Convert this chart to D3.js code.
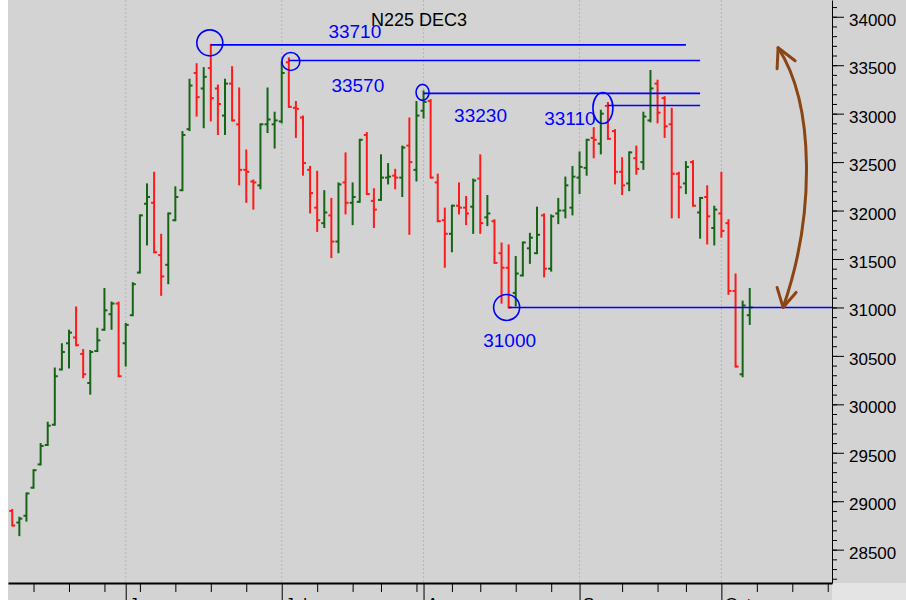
<!DOCTYPE html>
<html>
<head>
<meta charset="utf-8">
<script src="https://cdn.jsdelivr.net/npm/d3@7"></script>
<style>
    body { margin: 0; background: #fff; }
    svg { display: block; }
    text { font-family: "Liberation Sans", Arial, sans-serif; }
</style>
</head>
<body>
<svg id="chart"></svg>
<script>
// N225 Dec 2023 futures, daily bars (session index 0 = first bar on the chart)
const opens = [
    28900, 28780, 28850, 29140, 29380, 29580, 29790, 30360, 30630, 30690,
    30520, 30220, 30550, 30770, 30930, 31040, 30630, 30920, 31360, 32070,
    32080, 31540, 31440, 31900, 32210, 32840, 33420, 33260, 33470, 33260,
    32980, 33310, 32890, 32420, 32300, 32260, 32890, 32890, 32920, 33530,
    33060, 32960, 32420, 32030, 31870, 31950, 31680, 32290, 32080, 32090,
    32780, 32100, 32110, 32340, 32360, 32340, 32670, 32420, 33030, 33130,
    32290, 31900, 31760, 32050, 32030, 32040, 32330, 31930, 31890, 31560,
    31410, 31150, 31330, 31610, 31560, 31950, 31400, 31970, 32000, 32030,
    32340, 32440, 32750, 32690, 33080, 32820, 32400, 32280, 32540, 32500,
    32930, 33310, 33160, 32890, 32380, 32280, 32500, 31980, 32140, 31820,
    31970, 31870, 31170, 30310, 30920
];
const highs = [
    28910, 28830, 29080, 29320, 29590, 29810, 30370, 30620, 30760, 31000,
    30560, 30550, 30780, 31190, 31050, 31050, 30830, 31250, 31950, 32270,
    32390, 31750, 31970, 32240, 32810, 33350, 33510, 33470, 33710, 33290,
    33350, 33480, 33260, 32620, 32310, 32890, 33260, 33010, 33530, 33570,
    33120, 32970, 32450, 32400, 32200, 32120, 32280, 32590, 32280, 32730,
    32800, 32220, 32570, 32480, 32420, 32660, 32950, 33120, 33230, 33140,
    32370, 32020, 32050, 32280, 32140, 32320, 32570, 32150, 31900, 31660,
    31640, 31520, 31670, 31760, 32030, 31960, 31950, 32120, 32340, 32450,
    32600, 32730, 32850, 33030, 33110, 32830, 32540, 32600, 32660, 33010,
    33440, 33340, 33170, 33050, 32390, 32500, 32510, 32130, 32250, 32040,
    32390, 31900, 31340, 31060, 31190
];
const lows = [
    28750, 28650, 28800, 29140, 29380, 29580, 29790, 30360, 30380, 30610,
    30280, 30110, 30550, 30770, 30780, 30290, 30400, 30920, 31360, 31650,
    31570, 31130, 31250, 31900, 32210, 32830, 32980, 32860, 32930, 32790,
    32790, 32930, 32270, 32090, 32020, 32230, 32810, 32650, 32910, 33070,
    32760, 32370, 31980, 31790, 31830, 31520, 31570, 31970, 31860, 32090,
    32170, 31830, 32110, 32280, 32230, 32150, 31760, 32310, 32960, 32340,
    31890, 31420, 31580, 31970, 31860, 31770, 31770, 31850, 31460, 31050,
    31000, 31020, 31330, 31460, 31560, 31320, 31380, 31870, 31930, 31960,
    32180, 32370, 32550, 32590, 32740, 32280, 32170, 32210, 32380, 32430,
    32920, 32910, 32760, 31930, 31930, 32180, 32050, 31720, 31660, 31650,
    31730, 31140, 30390, 30290, 30830
];
const closes = [
    28750, 28820, 29080, 29320, 29570, 29780, 30290, 30540, 30740, 30610,
    30310, 30540, 30660, 30970, 31040, 30290, 30820, 31240, 31950, 32140,
    31570, 31320, 31970, 32140, 32780, 33290, 33170, 33380, 33160, 33100,
    33310, 32930, 32420, 32400, 32290, 32890, 32940, 32930, 33420, 33070,
    33050, 32490, 32180, 31900, 31980, 31680, 32270, 32080, 32140, 32730,
    32170, 32010, 32340, 32350, 32340, 32650, 32500, 32980, 33120, 32340,
    31890, 31760, 32050, 32030, 31970, 32310, 31870, 31970, 31460, 31410,
    31000, 31350, 31670, 31720, 31750, 31400, 31940, 32000, 32260, 32350,
    32450, 32730, 32730, 33000, 32740, 32400, 32260, 32600, 32430, 32970,
    33260, 33010, 32870, 32380, 32240, 32450, 32050, 32130, 31940, 32010,
    31790, 31170, 30390, 31020, 31000
];

// session indexes of the first session of each month / each week
const monthTicks = [16, 38, 58, 80, 100];
const monthLabels = ['Jun', 'Jul', 'Aug', 'Sep', 'Oct'];
const weekTicks = [3, 8, 13, 18, 23, 28, 33, 43, 48, 52, 57, 62, 66, 71, 76, 86, 91, 95, 105, 110, 115];
const priceTicks = [28500, 29000, 29500, 30000, 30500, 31000, 31500, 32000, 32500, 33000, 33500, 34000];

// marked levels: value, session where it was set, session where the line stops
const levels = [33710, 33570, 33230, 33110, 31000];
const levelBars = [28, 39, 58, 84, 70];
const levelEnds = [95, 97, 97, 97, 115.6];

// swing arrow between the two levels: [session, price]
const swingFrom = [108.0, 33680];
const swingTo = [108.7, 31000];

const chartTitle = 'N225 DEC3';

class OhlcChart {

    constructor( config ) {
        this.config = {
            parent: config.parent,
            width: config.width || 906,
            height: config.height || 600,
            margin: config.margin || { top: 0, right: 74, bottom: 17, left: 8 }
        };
        this.init();
    }

    init() {
        let self = this;
        let m = self.config.margin;

        self.inner_width = self.config.width - m.left - m.right;
        self.inner_height = self.config.height - m.top - m.bottom;

        self.svg = d3.select( self.config.parent )
            .attr('width', self.config.width)
            .attr('height', self.config.height);

        self.svg.append('rect')
            .attr('width', self.config.width)
            .attr('height', self.config.height)
            .attr('fill', '#d3d3d3');
        self.svg.append('rect')
            .attr('width', m.left)
            .attr('height', self.config.height)
            .attr('fill', '#ffffff');
        self.svg.append('rect')
            .attr('x', m.left + self.inner_width)
            .attr('y', m.top + self.inner_height)
            .attr('width', m.right)
            .attr('height', m.bottom)
            .attr('fill', '#e4e4e4');

        self.chart = self.svg.append('g')
            .attr('transform', `translate(${m.left}, ${m.top})`);

        self.x = d3.scaleLinear()
            .domain([-0.6, 115.6])
            .range([0, self.inner_width]);

        self.y = d3.scaleLinear()
            .domain([28156, 34173])
            .range([self.inner_height, 0]);
    }

    render() {
        let self = this;
        let x = self.x, y = self.y;

        // dotted month grid
        self.chart.selectAll('.grid')
            .data(monthTicks)
            .enter()
            .append('line')
            .attr('x1', d => x(d)).attr('x2', d => x(d))
            .attr('y1', 0).attr('y2', self.inner_height)
            .attr('stroke', '#b5b5b5')
            .attr('stroke-dasharray', '2,2');

        // bottom axis: weekly minor ticks, monthly major ticks
        self.chart.append('g')
            .attr('transform', `translate(0, ${self.inner_height})`)
            .call( d3.axisBottom(x).tickValues(weekTicks).tickSize(9).tickSizeOuter(0).tickFormat('') )
            .call( g => g.select('.domain').attr('stroke-width', 2) );

        // month names sit at the window edge, only their tops show (as in the original)
        let months = self.chart.append('g')
            .attr('transform', `translate(0, ${self.inner_height})`)
            .call( d3.axisBottom(x).tickValues(monthTicks).tickSize(20).tickPadding(-5)
                .tickFormat( (d, i) => monthLabels[i] ) );
        months.select('.domain').remove();
        months.selectAll('text')
            .attr('x', 3)
            .attr('text-anchor', 'start')
            .attr('fill', '#000')
            .style('font-size', '17px');

        // right price axis
        self.chart.append('g')
            .attr('transform', `translate(${self.inner_width}, 0)`)
            .call( d3.axisRight(y).tickValues( d3.range(28200, 34200, 100) ).tickSize(5).tickSizeOuter(0).tickFormat('') );

        let prices = self.chart.append('g')
            .attr('transform', `translate(${self.inner_width}, 0)`)
            .call( d3.axisRight(y).tickValues(priceTicks).tickSize(12).tickPadding(5).tickFormat(d3.format('d')) );
        prices.select('.domain').remove();
        prices.selectAll('text')
            .attr('dy', '0.5em')
            .attr('fill', '#000')
            .style('font-size', '17px');

        // OHLC bars
        let bars = self.chart.selectAll('.bar')
            .data( d3.range(opens.length) )
            .enter()
            .append('g')
            .attr('stroke', i => closes[i] >= opens[i] ? '#156515' : '#ff1a1a')
            .attr('stroke-width', 2);

        bars.append('line')
            .attr('x1', i => x(i)).attr('x2', i => x(i))
            .attr('y1', i => y(highs[i]) - 1).attr('y2', i => y(lows[i]) + 1);
        bars.append('line')
            .attr('x1', i => x(i) - 3).attr('x2', i => x(i))
            .attr('y1', i => y(opens[i])).attr('y2', i => y(opens[i]));
        bars.append('line')
            .attr('x1', i => x(i)).attr('x2', i => x(i) + 3)
            .attr('y1', i => y(closes[i])).attr('y2', i => y(closes[i]));

        // title
        self.chart.append('text')
            .attr('x', 411)
            .attr('y', 26)
            .attr('text-anchor', 'middle')
            .attr('fill', '#000')
            .style('font-size', '18px')
            .text(chartTitle);

        // marked levels: circle on the bar, line to the right, value label
        let look = [
            { cx: -1, cy: -2, rx: 13, ry: 13, lx: 144, ly: -7,  dy: 0 },
            { cx: 2,  cy: 3,  rx: 9,  ry: 9,  lx: 69,  ly: 34,  dy: 2 },
            { cx: -1, cy: 1,  rx: 6.5, ry: 8, lx: 57,  ly: 31,  dy: 2 },
            { cx: -5, cy: 5,  rx: 10, ry: 15.5, lx: -38, ly: 22, dy: 2.5 },
            { cx: -2, cy: 0,  rx: 13, ry: 13, lx: 1,   ly: 40,  dy: 0 }
        ];

        let marks = self.chart.selectAll('.level')
            .data(levels)
            .enter()
            .append('g');

        marks.append('line')
            .attr('x1', (d, i) => x(levelBars[i]))
            .attr('x2', (d, i) => x(levelEnds[i]))
            .attr('y1', (d, i) => y(d) + look[i].dy)
            .attr('y2', (d, i) => y(d) + look[i].dy)
            .attr('stroke', '#0000ff')
            .attr('stroke-width', 1.6);

        marks.append('ellipse')
            .attr('cx', (d, i) => x(levelBars[i]) + look[i].cx)
            .attr('cy', (d, i) => y(d) + look[i].cy)
            .attr('rx', (d, i) => look[i].rx)
            .attr('ry', (d, i) => look[i].ry)
            .attr('fill', 'none')
            .attr('stroke', '#0000ff')
            .attr('stroke-width', 1.6);

        marks.append('text')
            .attr('x', (d, i) => x(levelBars[i]) + look[i].lx)
            .attr('y', (d, i) => y(d) + look[i].ly)
            .attr('text-anchor', 'middle')
            .attr('fill', '#0000ff')
            .style('font-size', '19px')
            .text(d => d);

        // curved double arrow for the swing
        let x0 = x(swingFrom[0]), y0 = y(swingFrom[1]);
        let x1 = x(swingTo[0]), y1 = y(swingTo[1]);
        let curve = d3.path();
        curve.moveTo(x0, y0);
        curve.bezierCurveTo(x0 + 37, y0 + 57, x1 + 32, y1 - 92, x1, y1);

        let arrow = self.chart.append('g')
            .attr('fill', 'none')
            .attr('stroke', '#8b4513')
            .attr('stroke-width', 3)
            .attr('stroke-linecap', 'round')
            .attr('stroke-linejoin', 'round');

        arrow.append('path').attr('d', curve.toString());
        arrow.append('path')
            .attr('d', `M${x0 - 1},${y0 + 21} L${x0},${y0} L${x0 + 17},${y0 + 13}`);
        arrow.append('path')
            .attr('d', `M${x1 - 6},${y1 - 20} L${x1},${y1} L${x1 + 13},${y1 - 15}`);
    }

}

let chart = new OhlcChart({ parent: '#chart', width: 906, height: 600 });
chart.render();
</script>
</body>
</html>
